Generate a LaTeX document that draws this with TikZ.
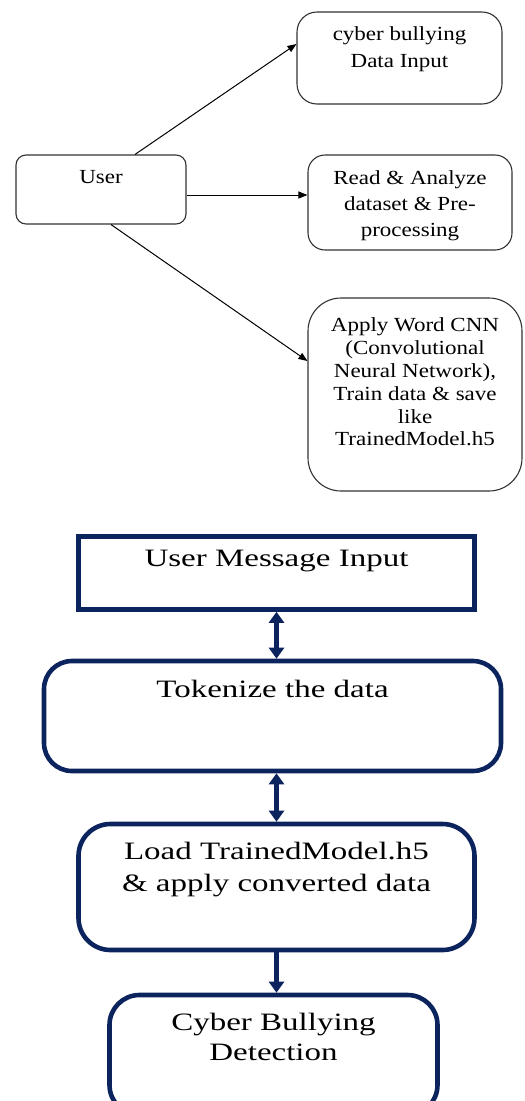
\documentclass[tikz,border=0pt]{standalone}
\usepackage{fontspec}
\setmainfont{Liberation Serif}
\newfontfamily\topfont[FakeStretch=1.15]{Liberation Serif}
\newfontfamily\botfont[FakeStretch=1.32]{Liberation Serif}
\usetikzlibrary{arrows.meta,calc}
\definecolor{navy}{RGB}{12,36,94}
\definecolor{boxgray}{RGB}{50,50,50}
\newcommand{\tbox}[4]{\parbox[c][#2][t]{#1}{\centering\vspace*{#3}#4}}
\begin{document}
\begin{tikzpicture}[x=1pt,y=1pt,
  tb/.style={draw=boxgray, line width=1.1pt, rounded corners=#1, inner sep=0pt},
  bb/.style={draw=navy, line width=4.6pt, inner sep=0pt},
  thinarrow/.style={draw=black, line width=1pt, -{Triangle[width=7pt,length=9pt]}},
  fatarrow/.style={draw=navy, line width=5pt, -{Triangle[width=15pt,length=11pt]}},
  fatdouble/.style={draw=navy, line width=5pt, {Triangle[width=15pt,length=11pt]}-{Triangle[width=15pt,length=11pt]}}
]
\useasboundingbox (0,0) rectangle (525,-1101);
\clip (0,0) rectangle (525,-1101);

% top part
\node[tb=10pt] (user) at (101,-189.5)
  {\tbox{170pt}{69pt}{15pt}{\topfont\fontsize{20}{24}\selectfont User}};
\node[tb=20pt] (cyber) at (399.5,-58)
  {\tbox{205pt}{92pt}{15pt}{\topfont\fontsize{20}{27}\selectfont cyber bullying\\Data Input}};
\node[tb=17pt] (read) at (410,-202.5)
  {\tbox{204pt}{95pt}{16pt}{\topfont\fontsize{20}{26}\selectfont Read \& Analyze\\dataset \& Pre-\\processing}};
\node[tb=33pt] (apply) at (415,-394.5)
  {\tbox{214pt}{193pt}{20pt}{\topfont\fontsize{20}{22.8}\selectfont Apply Word CNN\\(Convolutional\\Neural Network),\\Train data \& save\\like\\TrainedModel.h5}};

\draw[thinarrow] ($(user.north)+(34,0)$) -- ($(cyber.west)+(0,14)$);
\draw[thinarrow] ($(user.east)+(0,-5.5)$) -- ($(read.west)+(0,7.5)$);
\draw[thinarrow] ($(user.south)+(10,0)$) -- ($(apply.west)+(0,33.5)$);

% bottom part
\node[bb] (umi) at (276.5,-573)
  {\tbox{396pt}{73pt}{13.5pt}{\botfont\fontsize{25}{32}\selectfont User Message Input}};
\node[bb, rounded corners=28pt] (tok) at (272.5,-716)
  {\tbox{457pt}{110pt}{19pt}{\botfont\fontsize{25}{32}\selectfont Tokenize the data}};
\node[bb, rounded corners=32pt] (load) at (276.5,-887)
  {\tbox{396pt}{126pt}{18pt}{\botfont\fontsize{25}{32}\selectfont Load TrainedModel.h5\\\& apply converted data}};
\node[bb, rounded corners=30pt] (cbd) at (273.5,-1055)
  {\tbox{328pt}{120pt}{18pt}{\botfont\fontsize{25}{30}\selectfont Cyber Bullying\\Detection}};

\draw[fatdouble] (umi.south) -- (umi.south |- tok.north);
\draw[fatdouble] (umi.south |- tok.south) -- (umi.south |- load.north);
\draw[fatarrow] (load.south) -- (load.south |- cbd.north);
\end{tikzpicture}
\end{document}
